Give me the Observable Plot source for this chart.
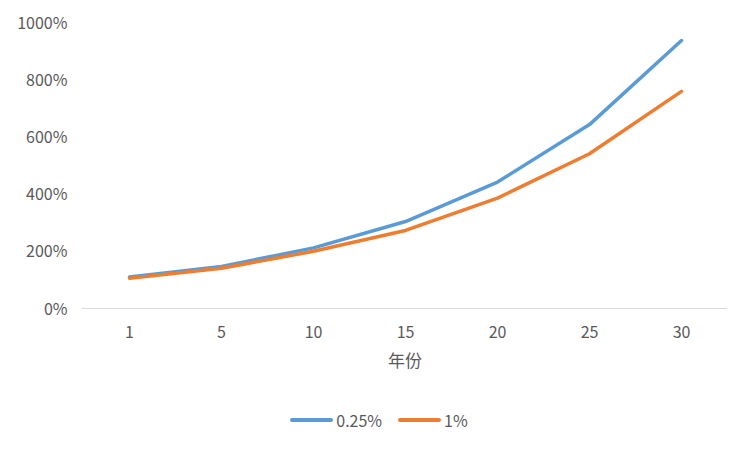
<!DOCTYPE html>
<html>
<head>
<meta charset="utf-8">
<script src="https://cdn.jsdelivr.net/npm/d3@7"></script>
<script src="https://cdn.jsdelivr.net/npm/@observablehq/plot@0.6"></script>
<style>
  html, body { margin: 0; padding: 0; background: #fff; }
  body { width: 751px; height: 451px; overflow: hidden; font-family: "Noto Sans CJK SC", sans-serif; }
  #legend { display: flex; justify-content: center; align-items: center; gap: 16px; margin-top: 20px; height: 20px; color: #595959; font-size: 16px; padding-left: 7px; }
  .item { display: flex; align-items: center; gap: 3px; }
  .swatch { width: 43px; height: 4px; border-radius: 2px; }
</style>
</head>
<body>
<div id="chart"></div>
<div id="legend"></div>
<script>
const years = ["1", "5", "10", "15", "20", "25", "30"];
const seriesNames = ["0.25%", "1%"];
const seriesColors = ["#5B9BD5", "#ED7D31"];
const valuesA = [110, 147, 212, 304, 442, 643, 937];
const valuesB = [106, 141, 200, 273, 386, 541, 759];
const yTicks = [0, 200, 400, 600, 800, 1000];
const xLabel = "年份";

const data = [];
years.forEach((y, i) => {
  data.push({year: y, value: valuesA[i], series: seriesNames[0]});
  data.push({year: y, value: valuesB[i], series: seriesNames[1]});
});

const chart = Plot.plot({
  width: 751,
  height: 390,
  marginLeft: 82,
  marginRight: 24,
  marginTop: 22,
  marginBottom: 82,
  style: {fontFamily: "'Noto Sans CJK SC', sans-serif", fontSize: "16px", color: "#595959", background: "#fff"},
  x: {type: "point", domain: years, padding: 0.5},
  y: {domain: [0, 1000]},
  color: {domain: seriesNames, range: seriesColors},
  marks: [
    Plot.axisY({ticks: yTicks, tickSize: 0, tickPadding: 15, tickFormat: d => d + "%", label: null, fontSize: 16, dy: 1}),
    Plot.axisX({tickSize: 0, tickPadding: 18, label: null, fontSize: 16}),
    Plot.ruleY([0], {stroke: "#d9d9d9", strokeWidth: 1}),
    Plot.line(data, {x: "year", y: "value", stroke: "series", strokeWidth: 3.5, strokeLinecap: "round", strokeLinejoin: "round"}),
    Plot.text([xLabel], {frameAnchor: "bottom", dy: 58, fontSize: 17, fill: "#595959"})
  ]
});
document.getElementById("chart").appendChild(chart);

const legend = document.getElementById("legend");
seriesNames.forEach((n, i) => {
  const item = document.createElement("div");
  item.className = "item";
  const sw = document.createElement("div");
  sw.className = "swatch";
  sw.style.background = seriesColors[i];
  const t = document.createElement("span");
  t.textContent = n;
  item.appendChild(sw);
  item.appendChild(t);
  legend.appendChild(item);
});
</script>
</body>
</html>
